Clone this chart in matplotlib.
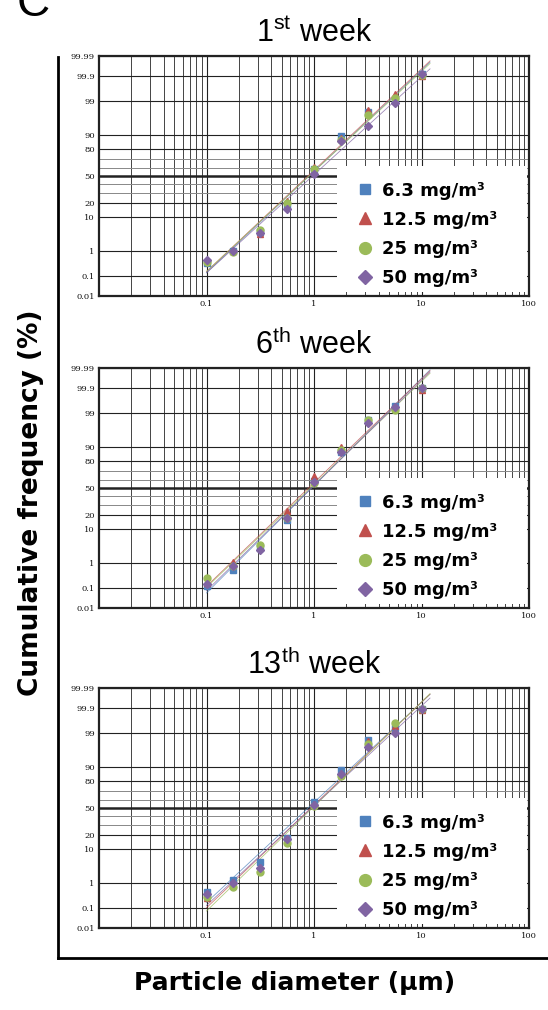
import math
from statistics import NormalDist
import numpy as np
import matplotlib
matplotlib.use("Agg")
import matplotlib.pyplot as plt
from matplotlib.patches import Rectangle
from matplotlib.ticker import LogLocator, NullFormatter, FixedLocator

plt.rcParams['mathtext.fontset'] = 'custom'
plt.rcParams['mathtext.rm'] = 'Liberation Sans'

# particle diameter (um)
diam = [0.1, 0.178, 0.316, 0.562, 1.0, 1.78, 3.16, 5.62, 10.0]

groups = ['6.3 mg/m³', '12.5 mg/m³', '25 mg/m³', '50 mg/m³']
weeks = ['1$^{\\rm st}$ week', '6$^{\\rm th}$ week', '13$^{\\rm th}$ week']

# cumulative frequency (%) per week, per exposure group
week1_63 = [0.34, 1.0, 4.2, 18, 59, 89, 97.6, 99.1, 99.92]
week1_125 = [0.43, 1.0, 3.6, 22, 61, 88, 98.0, 99.43, 99.9]
week1_25 = [0.40, 0.95, 4.7, 20, 59, 87, 97.0, 99.24, 99.91]
week1_50 = [0.45, 1.0, 3.8, 15, 52, 86, 94.0, 98.8, 99.92]

week6_63 = [0.12, 0.54, 3.1, 16.3, 58, 87, 98.3, 99.46, 99.9]
week6_125 = [0.16, 1.1, 3.3, 23.5, 65, 89.8, 98.1, 99.42, 99.88]
week6_25 = [0.26, 0.78, 3.8, 17.6, 56, 87.8, 98.2, 99.2, 99.9]
week6_50 = [0.15, 0.8, 2.8, 17.3, 57, 86.8, 97.8, 99.4, 99.9]

week13_63 = [0.45, 1.25, 4.8, 17.6, 57, 88, 98.3, 99.34, 99.89]
week13_125 = [0.26, 1.07, 3.0, 15.8, 55, 85, 98.1, 99.43, 99.88]
week13_25 = [0.29, 0.7, 2.3, 13.9, 52, 84, 97.6, 99.58, 99.89]
week13_50 = [0.40, 1.0, 3.1, 16.8, 54, 85.6, 97.1, 99.0, 99.89]

all_weeks = [[week1_63, week1_125, week1_25, week1_50],
             [week6_63, week6_125, week6_25, week6_50],
             [week13_63, week13_125, week13_25, week13_50]]

colors = ['#4f81bd', '#c0504d', '#9bbb59', '#8064a2']
markers = ['s', '^', 'o', 'D']
msizes = [4.5, 5, 5, 4]

ytick_vals = [0.01, 0.1, 1, 10, 20, 50, 80, 90, 99, 99.9, 99.99]
ytick_labels = ['0.01', '0.1', '1', '10', '20', '50', '80', '90', '99', '99.9', '99.99']
yminor_vals = [30, 40, 60, 70]
xtick_vals = [0.1, 1, 10, 100]
xtick_labels = ['0.1', '1', '10', '100']

nd = NormalDist()


def _ppf(v):
    if not np.isfinite(v):
        return np.nan
    return nd.inv_cdf(v)


def prob_fwd(p):
    p = np.clip(np.asarray(p, dtype=float) / 100.0, 1e-12, 1 - 1e-12)
    return np.vectorize(_ppf, otypes=[float])(p)


def prob_inv(z):
    z = np.asarray(z, dtype=float)
    return 50.0 * (1.0 + np.vectorize(math.erf, otypes=[float])(z / math.sqrt(2)))


W, H = 548, 1010
fig = plt.figure(figsize=(W / 100, H / 100), dpi=100)

# outer L-shaped frame
outer = fig.add_axes([58 / W, 1 - 958 / H, (W - 58) / W, (958 - 57) / H])
outer.set_xticks([])
outer.set_yticks([])
outer.patch.set_alpha(0)
for s in ['top', 'right']:
    outer.spines[s].set_visible(False)
for s in ['left', 'bottom']:
    outer.spines[s].set_linewidth(2)

tops = [56, 368, 688]
for i, top in enumerate(tops):
    ax = fig.add_axes([99 / W, 1 - (top + 240) / H, 430 / W, 240 / H])
    ax.set_xscale('log')
    ax.set_yscale('function', functions=(prob_fwd, prob_inv))

    logx = np.log10(diam)
    xline = np.geomspace(min(diam), max(diam) * 1.2, 30)
    for j, vals in enumerate(all_weeks[i]):
        ax.plot(diam, vals, linestyle='none', marker=markers[j], ms=msizes[j],
                color=colors[j], label=groups[j], zorder=4)
        # probit regression line
        k, b = np.polyfit(logx, prob_fwd(vals), 1)
        ax.plot(xline, prob_inv(k * np.log10(xline) + b), color=colors[j],
                lw=0.6, alpha=0.75, zorder=3)

    ax.set_xlim(0.01, 100)
    ax.set_ylim(0.01, 99.99)
    ax.xaxis.set_major_locator(FixedLocator(xtick_vals))
    ax.set_xticklabels(xtick_labels)
    ax.xaxis.set_minor_locator(LogLocator(base=10, subs=np.arange(2, 10)))
    ax.xaxis.set_minor_formatter(NullFormatter())
    ax.yaxis.set_major_locator(FixedLocator(ytick_vals))
    ax.set_yticklabels(ytick_labels)
    ax.yaxis.set_minor_locator(FixedLocator(yminor_vals))
    ax.yaxis.set_minor_formatter(NullFormatter())

    ax.tick_params(which='both', length=0)
    ax.tick_params(axis='both', labelsize=6, colors='#111111', pad=3)
    for lab in ax.get_xticklabels() + ax.get_yticklabels():
        lab.set_family('DejaVu Serif')

    ax.grid(True, which='major', axis='x', color='#222222', lw=0.8)
    ax.grid(True, which='minor', axis='x', color='#444444', lw=0.7)
    ax.grid(True, which='major', axis='y', color='#222222', lw=0.8)
    ax.grid(True, which='minor', axis='y', color='#888888', lw=0.7)
    for tick_val, gl in zip(ytick_vals, ax.yaxis.get_gridlines()):
        if tick_val == 50:
            gl.set_linewidth(1.8)
    ax.set_axisbelow(True)
    for s in ax.spines.values():
        s.set_linewidth(1.6)
        s.set_color('#222222')

    # white panel behind the legend
    ax.add_patch(Rectangle((0.553, 0.017), 0.442, 0.525, transform=ax.transAxes,
                           facecolor='white', edgecolor='none', zorder=5))
    leg = ax.legend(loc='upper left', bbox_to_anchor=(0.598, 0.477),
                    prop={'family': 'DejaVu Sans', 'weight': 'bold', 'size': 13},
                    frameon=False, markerscale=1.7, handlelength=1.0,
                    handletextpad=0.45, labelspacing=0.62, borderpad=0,
                    borderaxespad=0)
    leg.set_zorder(6)

    ax.set_title(weeks[i], fontsize=22, family='Liberation Sans', pad=10)

fig.text(0.06, 1.0 - 4 / H, 'C', fontsize=33, family='Liberation Sans',
         ha='center', va='center')
fig.text(31 / W, 1 - 503 / H, 'Cumulative frequency (%)', rotation=90,
         fontsize=19, weight='bold', family='DejaVu Sans', ha='center', va='center')
fig.text(295 / W, 1 - 983 / H, 'Particle diameter (μm)',
         fontsize=18, weight='bold', family='DejaVu Sans', ha='center', va='center')

fig.savefig('out.png', dpi=100)
